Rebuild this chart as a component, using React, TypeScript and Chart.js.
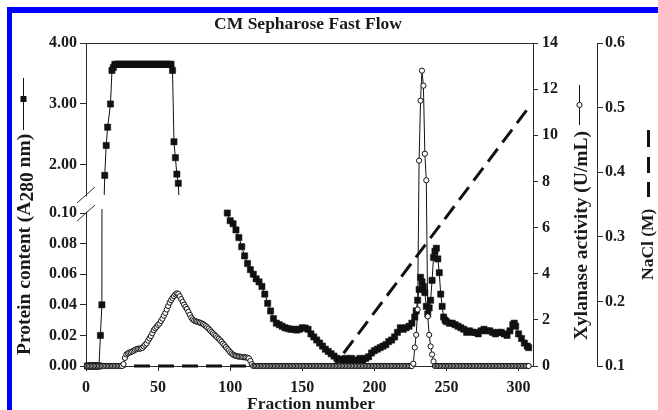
import React, { useEffect, useRef } from 'react';
import { Chart, registerables } from 'chart.js';

Chart.register(...registerables);

// ---------------- data ----------------
// Protein content (A280), first peak, fractions 1..65 (null = no marker plotted)
const protein1Start = 1;
const protein1 = [
  0, 0, 0, 0, 0, 0, 0, 0, 0, 0.02,
  0.04, null, 1.83, 2.32, 2.62, null, 3.0, 3.55, 3.6, 3.65,
  3.65, 3.65, 3.65, 3.65, 3.65, 3.65, 3.65, 3.65, 3.65, 3.65,
  3.65, 3.65, 3.65, 3.65, 3.65, 3.65, 3.65, 3.65, 3.65, 3.65,
  3.65, 3.65, 3.65, 3.65, 3.65, 3.65, 3.65, 3.65, 3.65, 3.65,
  3.65, 3.65, 3.65, 3.65, 3.65, 3.65, 3.65, 3.65, 3.65, 3.55,
  2.38, 2.12, 1.85, 1.7, 1.2,
];

// Protein content (A280), second part, fractions 98..307
const protein2Fractions = [
  98, 100, 102, 104, 106, 108, 110, 112, 114, 116, 118, 120, 122, 124, 126, 128, 130, 132, 134, 136,
  138, 140, 142, 144, 146, 148, 150, 152, 154, 156, 158, 160, 162, 164, 166, 168, 170, 172, 174, 176,
  178, 180, 182, 184, 186, 188, 190, 192, 194, 196, 198, 200, 202, 204, 206, 208, 210, 212, 214, 216,
  218, 220, 222, 224, 226, 228, 229, 230, 231, 232, 233, 234, 235, 236, 237, 238, 239, 240, 241, 242,
  243, 244, 245, 246, 247, 248, 249, 250, 252, 254, 256, 258, 260, 262, 264, 266, 268, 270, 272, 274,
  276, 278, 280, 282, 284, 286, 288, 290, 292, 294, 296, 297, 298, 300, 302, 304, 306, 307,
];
const protein2Values = [
  0.1, 0.095, 0.093, 0.089, 0.084, 0.078, 0.072, 0.067, 0.063, 0.06, 0.057, 0.055, 0.052, 0.047, 0.041, 0.036, 0.031, 0.028, 0.027, 0.026,
  0.025, 0.0245, 0.024, 0.024, 0.0235, 0.024, 0.025, 0.0248, 0.024, 0.021, 0.019, 0.017, 0.015, 0.013, 0.011, 0.0095, 0.008, 0.0065, 0.005, 0.0045,
  0.004, 0.005, 0.004, 0.005, 0.003, 0.004, 0.005, 0.004, 0.005, 0.006, 0.0085, 0.01, 0.011, 0.012, 0.013, 0.014, 0.016, 0.017, 0.019, 0.022,
  0.025, 0.024, 0.025, 0.026, 0.028, 0.032, 0.036, 0.043, 0.05, 0.058, 0.055, 0.052, 0.048, 0.039, 0.034, 0.038, 0.043, 0.056, 0.071, 0.075,
  0.077, 0.07, 0.061, 0.047, 0.039, 0.032, 0.03, 0.029, 0.028, 0.028, 0.027, 0.026, 0.025, 0.024, 0.022, 0.023, 0.022, 0.022, 0.021, 0.023,
  0.024, 0.023, 0.023, 0.022, 0.021, 0.022, 0.022, 0.021, 0.02, 0.023, 0.027, 0.028, 0.026, 0.021, 0.018, 0.015, 0.013, 0.012,
];

// Xylanase activity (U/mL), in segments with their first fraction
const xylBase1Start = 1; // fractions 1..25
const xylBase1 = [0, 0, 0, 0, 0, 0, 0, 0, 0, 0, 0, 0, 0, 0, 0, 0, 0, 0, 0, 0, 0, 0, 0, 0, 0];
const xylHumpStart = 26; // fractions 26..115
const xylHump = [
  0.08, 0.35, 0.5, 0.55, 0.58, 0.6, 0.63, 0.66, 0.7, 0.73,
  0.75, 0.75, 0.76, 0.78, 0.85, 0.92, 0.98, 1.1, 1.2, 1.3,
  1.42, 1.55, 1.63, 1.7, 1.78, 1.84, 1.95, 2.05, 2.18, 2.3,
  2.45, 2.6, 2.75, 2.85, 2.95, 3.03, 3.1, 3.15, 3.12, 3.02,
  2.9, 2.78, 2.66, 2.56, 2.47, 2.35, 2.22, 2.1, 2.02, 1.97,
  1.94, 1.92, 1.9, 1.88, 1.85, 1.82, 1.78, 1.73, 1.68, 1.62,
  1.55, 1.48, 1.42, 1.36, 1.3, 1.24, 1.18, 1.12, 1.05, 0.97,
  0.9, 0.82, 0.75, 0.68, 0.6, 0.54, 0.49, 0.46, 0.44, 0.42,
  0.41, 0.4, 0.39, 0.38, 0.38, 0.37, 0.36, 0.33, 0.22, 0.08,
];
const xylBase2Start = 116; // fractions 116..226
const xylBase2 = [
  0, 0, 0, 0, 0, 0, 0, 0, 0, 0, 0, 0, 0, 0, 0, 0, 0, 0, 0, 0,
  0, 0, 0, 0, 0, 0, 0, 0, 0, 0, 0, 0, 0, 0, 0, 0, 0, 0, 0, 0,
  0, 0, 0, 0, 0, 0, 0, 0, 0, 0, 0, 0, 0, 0, 0, 0, 0, 0, 0, 0,
  0, 0, 0, 0, 0, 0, 0, 0, 0, 0, 0, 0, 0, 0, 0, 0, 0, 0, 0, 0,
  0, 0, 0, 0, 0, 0, 0, 0, 0, 0, 0, 0, 0, 0, 0, 0, 0, 0, 0, 0,
  0, 0, 0, 0, 0, 0, 0, 0, 0, 0, 0,
];
const xylPeakStart = 227; // fractions 227..242
const xylPeak = [0.1, 0.8, 1.35, 2.45, 8.9, 11.5, 12.8, 12.15, 9.2, 8.05, 2.15, 1.35, 0.85, 0.5, 0.2, 0];
const xylBase3Start = 243; // fractions 243..307
const xylBase3 = [
  0, 0, 0, 0, 0, 0, 0, 0, 0, 0, 0, 0, 0, 0, 0, 0, 0, 0, 0, 0,
  0, 0, 0, 0, 0, 0, 0, 0, 0, 0, 0, 0, 0, 0, 0, 0, 0, 0, 0, 0,
  0, 0, 0, 0, 0, 0, 0, 0, 0, 0, 0, 0, 0, 0, 0, 0, 0, 0, 0, 0,
  0, 0, 0, 0, 0,
];

// NaCl gradient (M)
const naclFractions = [0, 172, 307];
const naclValues = [0.1, 0.1, 0.5];

// axis ticks
const xTickStep = 50;
const proteinHighTicks = [2, 3, 4];
const proteinLowTicks = [0, 0.02, 0.04, 0.06, 0.08, 0.1];
const xylTickStep = 2;
const naclTickStep = 0.1;

// ---------------- helpers ----------------
type Pt = { x: number; y: number };
const seg = (start: number, vals: (number | null)[]): Pt[] =>
  vals
    .map((v, i) => ({ x: start + i, y: v as number }))
    .filter((p) => p.y !== null);

const FONT = '"Liberation Serif", "Times New Roman", serif';
const TEXT = '#1a1a1a';
const AXIS = '#2b2b2b';
const INK = '#111111';

const tickFont = { family: FONT, size: 16, weight: 'bold' as const };

const decorPlugin = {
  id: 'decor',
  afterDraw(chart: any) {
    const { ctx, chartArea: a, scales } = chart;
    const yH = scales.yHigh;
    const yL = scales.yLow;
    ctx.save();
    // top frame
    ctx.strokeStyle = AXIS;
    ctx.lineWidth = 1;
    const ty = Math.round(a.top) + 0.5;
    ctx.beginPath();
    ctx.moveTo(a.left, ty);
    ctx.lineTo(a.right, ty);
    ctx.stroke();

    // axis break
    const yb1 = yH.bottom;
    const yb2 = yL.getPixelForValue(0.1);
    ctx.fillStyle = '#ffffff';
    ctx.fillRect(a.left - 2.5, yb1 + 1.5, 5, yb2 - yb1 - 3);
    ctx.beginPath();
    for (const yb of [yb1, yb2]) {
      ctx.moveTo(a.left - 9, yb + 8);
      ctx.lineTo(a.left + 9, yb - 8);
    }
    ctx.stroke();

    // titles
    ctx.fillStyle = TEXT;
    ctx.textBaseline = 'alphabetic';
    ctx.textAlign = 'center';
    ctx.font = `bold 17.5px ${FONT}`;
    ctx.fillText('CM Sepharose Fast Flow', 308, 28.5);
    ctx.font = `bold 17.5px ${FONT}`;
    ctx.fillText('Fraction number', 311, 409);

    const vText = (parts: [string, number][], x: number, yBottom: number, size: number) => {
      ctx.save();
      ctx.translate(x, yBottom);
      ctx.rotate(-Math.PI / 2);
      ctx.font = `bold ${size}px ${FONT}`;
      ctx.textAlign = 'left';
      ctx.textBaseline = 'middle';
      let p = 0;
      for (const [t, dy] of parts) {
        ctx.fillText(t, p, dy);
        p += ctx.measureText(t).width;
      }
      ctx.restore();
      return p;
    };

    vText([['Protein content (A', 0], ['280', 3], [' nm)', 0]], 25, 355, 19.5);
    vText([['Xylanase activity (U/mL)', 0]], 582, 340, 19.5);
    vText([['NaCl (M)', 0]], 648.5, 280, 17.5);

    // legend symbols
    ctx.strokeStyle = INK;
    ctx.lineWidth = 1;
    ctx.beginPath();
    ctx.moveTo(23.5, 78);
    ctx.lineTo(23.5, 130);
    ctx.stroke();
    ctx.fillStyle = INK;
    ctx.fillRect(20.5, 96, 6, 6);

    ctx.beginPath();
    ctx.moveTo(579.5, 85);
    ctx.lineTo(579.5, 125);
    ctx.stroke();
    ctx.beginPath();
    ctx.arc(579.5, 105, 2.6, 0, Math.PI * 2);
    ctx.fillStyle = '#ffffff';
    ctx.fill();
    ctx.stroke();

    ctx.lineWidth = 3;
    ctx.beginPath();
    for (const [y0, y1] of [[130, 147], [157, 173], [182, 197]]) {
      ctx.moveTo(648.5, y0);
      ctx.lineTo(648.5, y1);
    }
    ctx.stroke();

    ctx.restore();
  },
};

export default function App() {
  const ref = useRef<HTMLCanvasElement>(null);

  useEffect(() => {
    if (!ref.current) return;
    const p1 = seg(protein1Start, protein1);
    const p2 = protein2Fractions.map((f, i) => ({ x: f, y: protein2Values[i] }));
    const xyl = [
      ...seg(xylBase1Start, xylBase1),
      ...seg(xylHumpStart, xylHump),
      ...seg(xylBase2Start, xylBase2),
      ...seg(xylPeakStart, xylPeak),
      ...seg(xylBase3Start, xylBase3),
    ];
    const nacl = naclFractions.map((f, i) => ({ x: f, y: naclValues[i] }));

    const squareStyle = {
      borderColor: INK,
      borderWidth: 1,
      pointStyle: 'rect' as const,
      pointRadius: 4.4,
      pointBackgroundColor: INK,
      pointBorderColor: INK,
      pointBorderWidth: 0.5,
      tension: 0,
    };

    const axisGrid = (len: number) => ({
      display: true,
      drawOnChartArea: false,
      drawTicks: true,
      tickLength: len,
      color: AXIS,
      lineWidth: 1,
    });
    const border = { display: true, color: AXIS, width: 1 };

    const chart = new Chart(ref.current, {
      type: 'line',
      data: {
        datasets: [
          {
            label: 'Xylanase',
            data: xyl,
            yAxisID: 'yXyl',
            borderColor: INK,
            borderWidth: 1,
            pointStyle: 'circle',
            pointRadius: 2.6,
            pointBackgroundColor: '#ffffff',
            pointBorderColor: INK,
            pointBorderWidth: 1,
            tension: 0,
            clip: false as any,
            order: 0,
          },
          {
            label: 'NaCl',
            data: nacl,
            yAxisID: 'yNaCl',
            borderColor: INK,
            borderWidth: 3,
            borderDash: [16, 8],
            pointRadius: 0,
            tension: 0,
            clip: false as any,
            order: 1,
          },
          {
            label: 'Protein high',
            data: p1,
            yAxisID: 'yHigh',
            ...squareStyle,
            clip: { left: 6, right: 6, top: 6, bottom: 0 } as any,
            order: 2,
          },
          {
            label: 'Protein low 1',
            data: p1,
            yAxisID: 'yLow',
            ...squareStyle,
            clip: { left: 6, right: 6, top: -14, bottom: 6 } as any,
            order: 2,
          },
          {
            label: 'Protein low 2',
            data: p2,
            yAxisID: 'yLow',
            ...squareStyle,
            clip: { left: 6, right: 6, top: -10, bottom: 6 } as any,
            order: 2,
          },
        ],
      },
      options: {
        animation: false,
        responsive: false,
        maintainAspectRatio: false,
        devicePixelRatio: 1,
        layout: { padding: { top: 43, left: 0, right: 0, bottom: 0 } },
        plugins: {
          legend: { display: false },
          tooltip: { enabled: false },
          title: { display: false },
        },
        scales: {
          x: {
            type: 'linear',
            position: 'bottom',
            min: 0,
            max: 310,
            ticks: {
              stepSize: xTickStep,
              includeBounds: false,
              autoSkip: false,
              maxRotation: 0,
              font: tickFont,
              color: TEXT,
              padding: 7,
            },
            grid: axisGrid(5),
            border,
            afterFit: (s: any) => {
              s.height = 44;
            },
          },
          yHigh: {
            type: 'linear',
            position: 'left',
            stack: 'left',
            stackWeight: 152,
            weight: 1,
            min: 1.508,
            max: 4,
            afterBuildTicks: (s: any) => {
              s.ticks = proteinHighTicks.map((v) => ({ value: v }));
            },
            ticks: {
              autoSkip: false,
              font: tickFont,
              color: TEXT,
              padding: 3,
              callback: (v: any) => Number(v).toFixed(2),
            },
            grid: axisGrid(6),
            border,
            afterFit: (s: any) => {
              s.width = 86;
            },
          },
          yLow: {
            type: 'linear',
            position: 'left',
            stack: 'left',
            stackWeight: 171,
            weight: 0,
            min: 0,
            max: 0.1118,
            afterBuildTicks: (s: any) => {
              s.ticks = proteinLowTicks.map((v) => ({ value: v }));
            },
            ticks: {
              autoSkip: false,
              font: tickFont,
              color: TEXT,
              padding: 3,
              callback: (v: any) => Number(v).toFixed(2),
            },
            grid: axisGrid(6),
            border,
            afterFit: (s: any) => {
              s.width = 86;
            },
          },
          yXyl: {
            type: 'linear',
            position: 'right',
            min: 0,
            max: 14,
            ticks: {
              autoSkip: false,
              stepSize: xylTickStep,
              font: tickFont,
              color: TEXT,
              padding: 4,
            },
            grid: axisGrid(5),
            border,
            afterFit: (s: any) => {
              s.width = 64;
            },
          },
          yNaCl: {
            type: 'linear',
            position: 'right',
            min: 0.1,
            max: 0.6,
            ticks: {
              autoSkip: false,
              stepSize: naclTickStep,
              font: tickFont,
              color: TEXT,
              padding: 2,
              callback: (v: any) => Number(v).toFixed(1),
            },
            grid: axisGrid(6),
            border,
            afterFit: (s: any) => {
              s.width = 61;
            },
          },
        },
      } as any,
      plugins: [decorPlugin],
    });
    return () => chart.destroy();
  }, []);

  return (
    <div
      style={{
        position: 'fixed',
        left: 0,
        top: 0,
        width: 658,
        height: 410,
        background: '#ffffff',
        overflow: 'hidden',
      }}
    >
      <canvas ref={ref} width={658} height={410} style={{ display: 'block' }} />
      <div style={{ position: 'absolute', left: 7, top: 7, width: 651, height: 6, background: '#0000ff' }} />
      <div style={{ position: 'absolute', left: 7, top: 7, width: 5, height: 403, background: '#0000ff' }} />
    </div>
  );
}
